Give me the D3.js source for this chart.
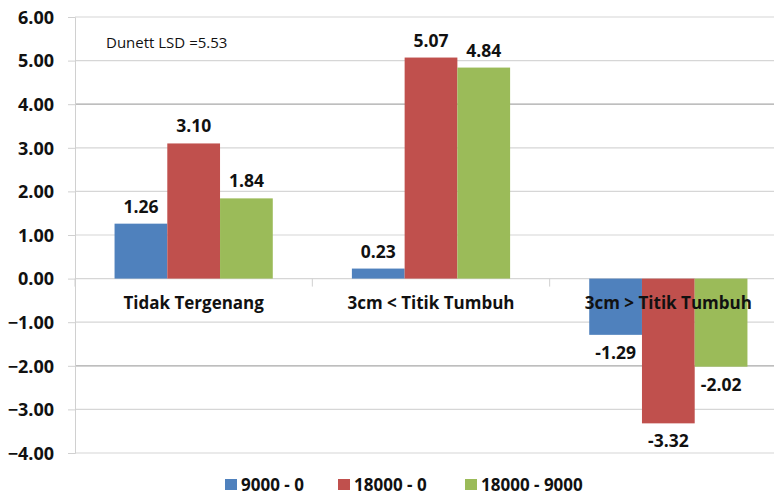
<!DOCTYPE html>
<html><head><meta charset="utf-8">
<script src="https://cdn.jsdelivr.net/npm/d3@7"></script>
<style>body{margin:0;background:#fff}svg{display:block}</style>
</head><body>
<script>
const categories = ["Tidak Tergenang", "3cm < Titik Tumbuh", "3cm > Titik Tumbuh"];
const seriesNames = ["9000 - 0", "18000 - 0", "18000 - 9000"];
const s9000_0 = [1.26, 0.23, -1.29];
const s18000_0 = [3.10, 5.07, -3.32];
const s18000_9000 = [1.84, 4.84, -2.02];
const yTicks = [6, 5, 4, 3, 2, 1, 0, -1, -2, -3, -4];
const note = "Dunett LSD =5.53";
const colors = ["#4F81BD", "#C0504D", "#9BBB59"];
const seriesValues = [s9000_0, s18000_0, s18000_9000];

const W = 774, H = 495;
const svg = d3.select("body").append("svg").attr("width", W).attr("height", H);
const font = "'Open Sans', sans-serif";

const y = d3.scaleLinear().domain([-4, 6]).range([453, 17]);
const x = d3.scaleBand().domain(categories).range([75, 787]).padding(0);
const xs = d3.scaleBand().domain(d3.range(3)).range([0, x.bandwidth()]).paddingInner(0).paddingOuter(0.75);

// gridlines
svg.append("g").selectAll("line").data(yTicks).join("line")
  .attr("x1", 75).attr("x2", W).attr("y1", d => y(d)).attr("y2", d => y(d))
  .attr("stroke", d => (d === 4 || d === -2) ? "#a8a8a8" : "#d6d6d6").attr("stroke-width", 1.2);

// y axis
const yAxis = d3.axisLeft(y).tickValues(yTicks).tickSize(7).tickFormat(d3.format(".2f"));
const ga = svg.append("g").attr("transform", "translate(75,0)").call(yAxis);
ga.select(".domain").attr("stroke", "#d0d0d0");
ga.selectAll(".tick line").attr("stroke", "#d0d0d0");
ga.selectAll(".tick text").attr("font-family", font).attr("font-weight", "bold")
  .attr("font-size", "18px").attr("fill", "#111").attr("x", -21).attr("dy", "0.35em");

// category axis ticks at zero
const bounds = [75, ...categories.map(c => x(c) + x.bandwidth())];
svg.append("g").selectAll("line").data(bounds).join("line")
  .attr("x1", d => d).attr("x2", d => d).attr("y1", y(0)).attr("y2", y(0) + 8)
  .attr("stroke", "#d0d0d0");

// bars
const data = [];
categories.forEach((c, i) => seriesValues.forEach((s, j) => data.push({c, j, v: s[i]})));
svg.append("g").selectAll("rect").data(data).join("rect")
  .attr("x", d => x(d.c) + xs(d.j)).attr("width", xs.bandwidth())
  .attr("y", d => y(Math.max(0, d.v))).attr("height", d => Math.abs(y(d.v) - y(0)))
  .attr("fill", d => colors[d.j]);

// value labels
svg.append("g").selectAll("text").data(data).join("text")
  .attr("x", d => x(d.c) + xs(d.j) + xs.bandwidth() / 2)
  .attr("y", d => d.v >= 0 ? y(d.v) - 11 : y(d.v) + 24)
  .attr("text-anchor", "middle").attr("font-family", font).attr("font-weight", "bold")
  .attr("font-size", "17.5px").attr("fill", "#111")
  .text(d => d.v.toFixed(2));

// category labels
svg.append("g").selectAll("text").data(categories).join("text")
  .attr("x", d => x(d) + x.bandwidth() / 2).attr("y", 309)
  .attr("text-anchor", "middle").attr("font-family", font).attr("font-weight", "bold")
  .attr("font-size", "17px").attr("fill", "#111").text(d => d);

// note
svg.append("text").attr("x", 106).attr("y", 48).attr("font-family", font)
  .attr("font-size", "15px").attr("fill", "#111").text(note);

// legend
const legX = [225, 338, 465];
const lg = svg.append("g").selectAll("g").data(seriesNames).join("g")
  .attr("transform", (d, i) => `translate(${legX[i]},479)`);
lg.append("rect").attr("width", 12).attr("height", 11).attr("fill", (d, i) => colors[i]);
lg.append("text").attr("x", 16).attr("y", 11.5).attr("font-family", font).attr("font-weight", "bold")
  .attr("font-size", "17px").attr("fill", "#111").text(d => d);
</script>
</body></html>
